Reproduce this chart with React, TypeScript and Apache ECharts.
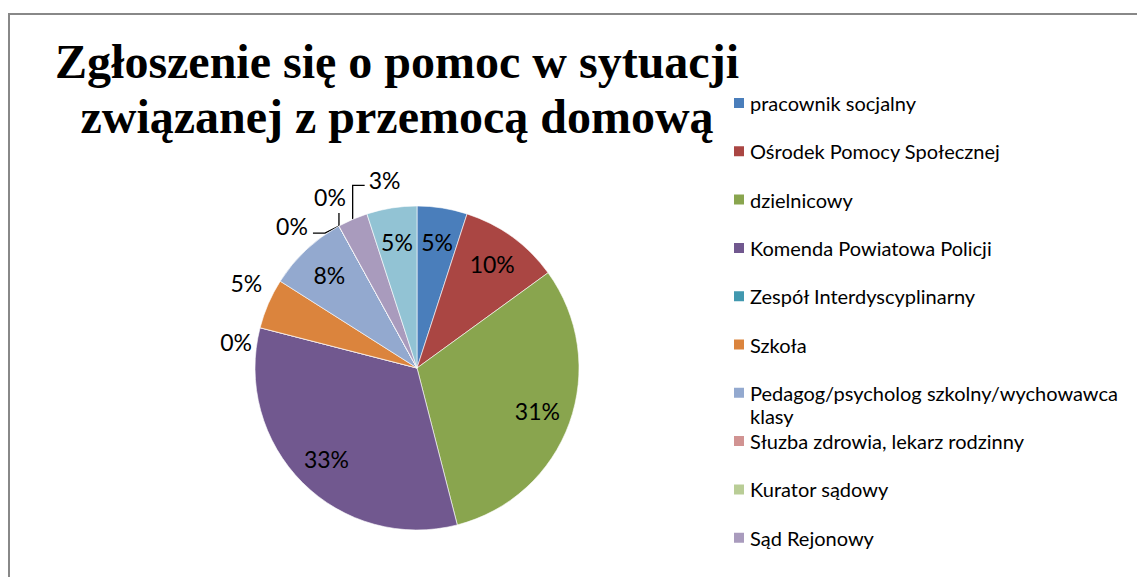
import React, { useEffect, useRef } from "react";
import * as echarts from "echarts";

// ---- data ----
const titleLines = ["Zgłoszenie się o pomoc w sytuacji", "związanej z przemocą domową"];
const categories = [
  "pracownik socjalny",
  "Ośrodek Pomocy Społecznej",
  "dzielnicowy",
  "Komenda Powiatowa Policji",
  "Zespół Interdyscyplinarny",
  "Szkoła",
  "Pedagog/psycholog szkolny/wychowawca klasy",
  "Słuzba zdrowia, lekarz rodzinny",
  "Kurator sądowy",
  "Sąd Rejonowy",
  "inne",
];
const values = [5, 10, 31, 33, 0, 5, 8, 0, 0, 3, 5];
const colors = [
  "#4A7EBB", "#AA4643", "#89A54E", "#71588F", "#4198AF", "#DB843D",
  "#93A9CF", "#D19392", "#B9CD96", "#A99BBD", "#92C3D4",
];
const legendGroupA = categories.slice(0, 6);
const legendGroupB = categories.slice(6, 7);
const legendGroupC = categories.slice(7, 10);
const insideIdx = [0, 1, 2, 3, 6, 10];
const outsideIdx = [4, 5, 7, 8, 9];
const leaderIdx = [7, 8, 9];

// ---- layout ----
const CX = 417;
const CY = 368;
const R = 162;
const total = values.reduce((a, b) => a + b, 0);

function edgePoint(i: number): [number, number] {
  let before = 0;
  for (let k = 0; k < i; k++) before += values[k];
  const theta = ((before + values[i] / 2) / total) * Math.PI * 2;
  return [CX + R * Math.sin(theta), CY - R * Math.cos(theta)];
}

// label offsets (from slice edge point) mimicking the spreadsheet's best-fit layout
const outsideLayout: Record<number, { dx: number; dy: number; line?: [number, number][] }> = {
  4: { dx: -24, dy: 14 },
  5: { dx: -22, dy: -21 },
  7: { dx: -47, dy: 0, line: [[-14, 7], [-26, 7]] },
  8: { dx: -9, dy: -29, line: [[0, -13]] },
  9: { dx: 32, dy: -39, line: [[0, -34], [12, -34]] },
};

const LEG_FONT = 20;
const LEG_ICON = 12;
const LEG_ICON_TOP = 97;
const LEG_STEP = 48.3;
const LEG_TOP = LEG_ICON_TOP - (LEG_FONT - LEG_ICON) / 2;
const WRAP_LH = 23;
const LABEL_FONT = 23;

export default function App() {
  const ref = useRef<HTMLDivElement>(null);
  useEffect(() => {
    if (!ref.current) return;
    const chart = echarts.init(ref.current, undefined, { renderer: "svg" });
    const legendText = { fontFamily: "Lato", fontSize: LEG_FONT, color: "#000", lineHeight: LEG_FONT };
    const baseLegend = {
      orient: "vertical" as const,
      left: 732,
      padding: 0,
      itemWidth: LEG_ICON,
      itemHeight: LEG_ICON,
      itemGap: LEG_STEP - LEG_FONT,
      icon: "rect",
      textStyle: legendText,
    };
    const mainData = categories.map((name, i) => ({
      name,
      value: values[i],
      itemStyle: { color: colors[i] },
      label: { show: outsideIdx.includes(i) },
      labelLine: { show: leaderIdx.includes(i) },
    }));
    const innerData = categories.map((name, i) => ({
      name,
      value: values[i],
      label: { show: insideIdx.includes(i) },
    }));
    chart.setOption({
      animation: false,
      backgroundColor: "#fff",
      graphic: [
        {
          type: "rect",
          silent: true,
          shape: { x: 9, y: 14, width: 1300, height: 700 },
          style: { fill: "none", stroke: "#888", lineWidth: 2 },
        },
        {
          type: "text",
          silent: true,
          style: {
            x: 397, y: 61, text: titleLines[0],
            font: 'bold 48px "Liberation Serif", "Times New Roman", serif',
            fill: "#000", align: "center", verticalAlign: "middle",
          },
        },
        {
          type: "text",
          silent: true,
          style: {
            x: 397, y: 116, text: titleLines[1],
            font: 'bold 48px "Liberation Serif", "Times New Roman", serif',
            fill: "#000", align: "center", verticalAlign: "middle",
          },
        },
      ],
      legend: [
        { ...baseLegend, top: LEG_TOP, data: legendGroupA },
        {
          ...baseLegend,
          top: LEG_ICON_TOP + 6 * LEG_STEP - ((3 * WRAP_LH) / 2 - LEG_ICON / 2),
          data: legendGroupB,
          textStyle: { ...legendText, lineHeight: WRAP_LH },
          formatter: (name: string) => {
            const k = name.lastIndexOf(" ");
            return "\n" + name.slice(0, k) + "\n" + name.slice(k + 1);
          },
        },
        { ...baseLegend, top: LEG_TOP + 7 * LEG_STEP, data: legendGroupC },
      ],
      series: [
        {
          type: "pie",
          center: [CX, CY],
          radius: [0, R],
          startAngle: 90,
          clockwise: true,
          avoidLabelOverlap: false,
          itemStyle: { borderColor: "#fff", borderWidth: 0.6 },
          label: {
            position: "outside",
            formatter: "{c}%",
            fontFamily: "Lato",
            fontSize: LABEL_FONT,
            color: "#000",
          },
          labelLine: { lineStyle: { color: "#000", width: 1.3 }, length: 10, length2: 10 },
          emphasis: { disabled: true },
          labelLayout: (params: any) => {
            if (params.seriesIndex !== 0) return {};
            const o = outsideLayout[params.dataIndex];
            if (!o) return {};
            const [ex, ey] = edgePoint(params.dataIndex);
            const res: any = {
              x: ex + o.dx,
              y: ey + o.dy,
              align: "center",
              verticalAlign: "middle",
            };
            if (o.line) {
              res.labelLinePoints = [[ex, ey], ...o.line.map(([a, b]) => [ex + a, ey + b])];
            }
            return res;
          },
          data: mainData,
        },
        {
          type: "pie",
          center: [CX, CY],
          radius: [88, R],
          startAngle: 90,
          clockwise: true,
          silent: true,
          avoidLabelOverlap: false,
          itemStyle: { color: "transparent", borderWidth: 0 },
          label: {
            position: "inside",
            formatter: "{c}%",
            fontFamily: "Lato",
            fontSize: LABEL_FONT,
            color: "#000",
          },
          labelLine: { show: false },
          emphasis: { disabled: true },
          data: innerData,
        },
      ],
    });
    return () => chart.dispose();
  }, []);
  return (
    <div
      ref={ref}
      style={{ position: "absolute", left: 0, top: 0, width: 1137, height: 577, background: "#fff" }}
    />
  );
}
